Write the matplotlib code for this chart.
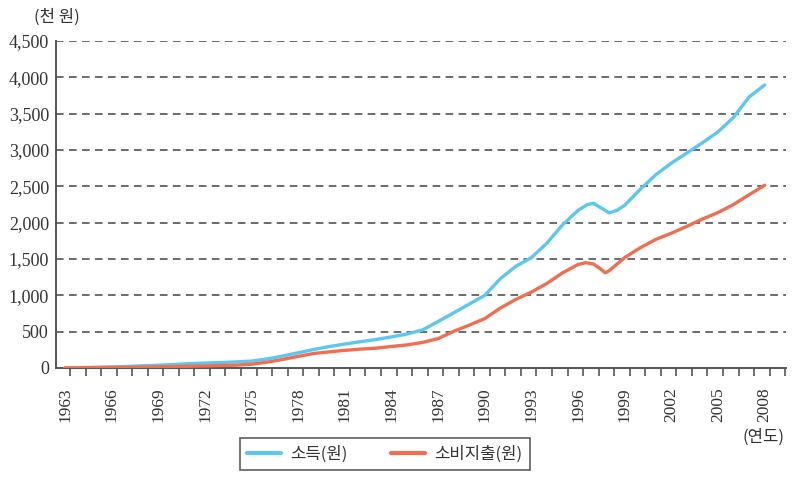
import matplotlib
matplotlib.use("Agg")
import matplotlib.pyplot as plt
from matplotlib.ticker import FixedLocator, FuncFormatter

# ---- data (thousand won) ----
income_years = [1963, 1964, 1965, 1966, 1967, 1968, 1969, 1970, 1971, 1972, 1973, 1974,
                1975, 1976, 1977, 1978, 1979, 1980, 1981, 1982, 1983, 1984, 1985, 1986,
                1987, 1988, 1989, 1990, 1991, 1992, 1993, 1994, 1995, 1996, 1996.6, 1997,
                1997.5, 1998, 1998.5, 1999, 2000, 2001, 2002, 2003, 2004, 2005, 2006,
                2007, 2008]
income = [3, 6, 10, 15, 22, 30, 38, 48, 60, 68, 75, 84,
          95, 125, 165, 210, 255, 295, 330, 362, 392, 428, 468, 525,
          640, 760, 880, 1000, 1230, 1400, 1520, 1720, 1970, 2170, 2250, 2265,
          2200, 2135, 2170, 2240, 2460, 2660, 2820, 2960, 3100, 3250, 3450,
          3730, 3895]

spend_years = [1963, 1964, 1965, 1966, 1967, 1968, 1969, 1970, 1971, 1972, 1973, 1974,
               1975, 1976, 1977, 1978, 1979, 1980, 1981, 1982, 1983, 1984, 1985, 1986,
               1987, 1988, 1989, 1990, 1991, 1992, 1993, 1994, 1995, 1996, 1996.5,
               1997, 1997.4, 1997.75, 1998, 1998.5, 1999, 2000, 2001, 2002, 2003,
               2004, 2005, 2006, 2007, 2008]
spend = [2, 3, 5, 7, 9, 12, 15, 19, 24, 29, 34, 39,
         52, 80, 118, 160, 200, 222, 243, 260, 273, 296, 318, 352,
         405, 505, 590, 680, 825, 945, 1045, 1165, 1310, 1425, 1450,
         1430, 1370, 1310, 1340, 1430, 1520, 1655, 1770, 1855, 1950,
         2050, 2140, 2250, 2385, 2515]

label_years = list(range(1963, 2009, 3))
y_ticks = [0, 500, 1000, 1500, 2000, 2500, 3000, 3500, 4000, 4500]
series_names = ["소득(원)", "소비지출(원)"]
blue = "#5AC8F0"
orange = "#F26E4E"

serif = ["Liberation Serif", "DejaVu Serif"]
kr = ["Noto Sans CJK KR", "DejaVu Sans"]
plt.rcParams["font.family"] = serif

fig = plt.figure(figsize=(8, 4.83), dpi=100)
ax = fig.add_axes([56/800, 1-368/483, (786-56)/800, (368-41)/483])

ax.plot(income_years, income, color=blue, lw=2.4, solid_joinstyle="round",
        solid_capstyle="round", label=series_names[0], zorder=3)
ax.plot(spend_years, spend, color=orange, lw=2.4, solid_joinstyle="round",
        solid_capstyle="round", label=series_names[1], zorder=3)

ax.set_xlim(1962.42, 2009.37)
ax.set_ylim(0, 4500)

# grid
for v in y_ticks[1:]:
    ax.axhline(v, color="#444444", lw=1.1, ls=(0, (5, 3.5)), zorder=1)

for s in ["top", "right"]:
    ax.spines[s].set_visible(False)
for s in ["left", "bottom"]:
    ax.spines[s].set_color("#555555")
    ax.spines[s].set_linewidth(1.4)

ax.yaxis.set_major_locator(FixedLocator(y_ticks))
ax.yaxis.set_major_formatter(FuncFormatter(lambda v, p: f"{int(v):,}"))
ax.tick_params(axis="y", length=0, pad=5, labelsize=13, colors="#333333")

ax.xaxis.set_major_locator(FixedLocator(label_years))
ax.xaxis.set_major_formatter(FuncFormatter(lambda v, p: f"{int(round(v))}"))
ax.xaxis.set_minor_locator(FixedLocator([y + 0.32 for y in range(1963, 2010)]))
ax.tick_params(axis="x", which="major", length=0, pad=14, labelsize=12.5, colors="#333333",
               labelrotation=90)
ax.tick_params(axis="x", which="minor", length=6, width=1.2, color="#555555", direction="out")

fig.text(57/800, 1-17/483, "(천 원)", family=kr, fontsize=12, color="#333333",
         ha="center", va="center")
fig.text(763/800, 1-437/483, "(연도)", family=kr, fontsize=12, color="#333333",
         ha="center", va="center")

leg = fig.legend(loc="center", bbox_to_anchor=(385/800, 1-454/483), ncol=2,
                 frameon=True, fancybox=False, edgecolor="#333333",
                 prop={"family": kr, "size": 12}, handlelength=2.0,
                 columnspacing=2.6, handletextpad=0.6, borderpad=0.45)
leg.get_frame().set_linewidth(1.2)
for t in leg.get_texts():
    t.set_color("#333333")
for l in leg.get_lines():
    l.set_linewidth(3)

fig.savefig("out.png", dpi=100)
